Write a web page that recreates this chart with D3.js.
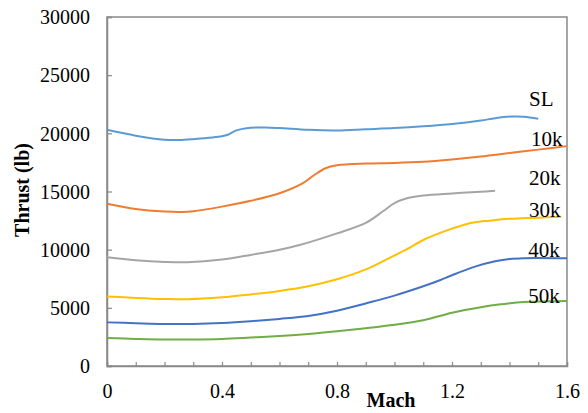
<!DOCTYPE html>
<html>
<head>
<meta charset="utf-8">
<script src="https://cdn.jsdelivr.net/npm/d3@7"></script>
<style>
  html, body { margin: 0; padding: 0; background: #fff; }
  svg { display: block; }
  text { font-family: "Liberation Serif", "Times New Roman", serif; fill: #000; }
</style>
</head>
<body>
<svg id="chart" width="588" height="413"></svg>
<script>
// ---- data ----
const seriesNames = ["SL", "10k", "20k", "30k", "40k", "50k"];
const seriesColors = ["#5B9BD5", "#ED7D31", "#A5A5A5", "#FFC000", "#4472C4", "#70AD47"];

const machSL = [0, 0.1, 0.2, 0.25, 0.3, 0.4, 0.42, 0.45, 0.5, 0.55, 0.6, 0.7, 0.8, 0.9, 1.0, 1.1, 1.2, 1.3, 1.35, 1.41, 1.45, 1.5];
const thrustSL = [20300, 19800, 19450, 19420, 19500, 19750, 19880, 20250, 20480, 20500, 20450, 20300, 20250, 20350, 20450, 20600, 20800, 21100, 21300, 21450, 21430, 21250];

const mach10k = [0, 0.1, 0.2, 0.26, 0.3, 0.4, 0.5, 0.6, 0.68, 0.72, 0.76, 0.8, 0.9, 1.0, 1.1, 1.2, 1.3, 1.4, 1.5, 1.6];
const thrust10k = [13950, 13500, 13280, 13240, 13300, 13700, 14200, 14850, 15700, 16400, 17000, 17250, 17400, 17450, 17550, 17750, 18000, 18300, 18600, 18900];

const mach20k = [0, 0.1, 0.2, 0.28, 0.4, 0.5, 0.6, 0.67, 0.8, 0.9, 0.96, 1.0, 1.04, 1.1, 1.2, 1.3, 1.35];
const thrust20k = [9350, 9100, 8950, 8920, 9150, 9550, 10000, 10400, 11400, 12300, 13300, 14000, 14400, 14650, 14830, 14980, 15070];

const mach30k = [0, 0.1, 0.2, 0.28, 0.4, 0.5, 0.6, 0.7, 0.8, 0.9, 0.98, 1.04, 1.1, 1.17, 1.24, 1.28, 1.33, 1.4, 1.5, 1.58];
const thrust30k = [5980, 5850, 5760, 5740, 5900, 6150, 6450, 6850, 7450, 8300, 9260, 10000, 10830, 11550, 12120, 12350, 12490, 12650, 12750, 12830];

const mach40k = [0, 0.1, 0.2, 0.3, 0.4, 0.5, 0.6, 0.7, 0.8, 0.9, 1.0, 1.1, 1.16, 1.2, 1.28, 1.35, 1.4, 1.45, 1.6];
const thrust40k = [3750, 3680, 3620, 3620, 3700, 3850, 4050, 4300, 4750, 5380, 6050, 6850, 7390, 7800, 8540, 9000, 9200, 9270, 9260];

const mach50k = [0, 0.1, 0.2, 0.3, 0.4, 0.5, 0.6, 0.7, 0.8, 0.9, 1.0, 1.1, 1.2, 1.3, 1.37, 1.45, 1.6];
const thrust50k = [2400, 2330, 2280, 2280, 2330, 2450, 2580, 2750, 2980, 3250, 3550, 3930, 4580, 5050, 5300, 5500, 5590];

const xTickValues = [0, 0.4, 0.8, 1.2, 1.6];
const yTickValues = [0, 5000, 10000, 15000, 20000, 25000, 30000];

// label anchors in data space (Mach, thrust)
const labelMach = [1.468, 1.475, 1.468, 1.468, 1.465, 1.465];
const labelThrust = [22350, 18900, 15600, 12800, 9400, 5380];

// ---- layout ----
const margin = { left: 107, top: 17, right: 21, bottom: 47 };
const W = 588, H = 413;
const iw = W - margin.left - margin.right;
const ih = H - margin.top - margin.bottom;

const svg = d3.select("#chart");
const g = svg.append("g").attr("transform", `translate(${margin.left},${margin.top})`);

const x = d3.scaleLinear().domain([0, 1.6]).range([0, iw]);
const y = d3.scaleLinear().domain([0, 30000]).range([ih, 0]);

const frameColor = "#898989";

// frame
g.append("rect").attr("x", 0).attr("y", 0).attr("width", iw).attr("height", ih)
  .attr("fill", "none").attr("stroke", frameColor).attr("stroke-width", 1.5);

// x axis: minor inward ticks every 0.1
const xAxis = d3.axisBottom(x).tickValues(d3.range(0, 1.6001, 0.1)).tickSize(-4).tickFormat("");
const gx = g.append("g").attr("transform", `translate(0,${ih})`).call(xAxis);
gx.select(".domain").attr("stroke", frameColor).attr("stroke-width", 1.5);
gx.selectAll(".tick line").attr("stroke", frameColor).attr("stroke-width", 1.2);

const gxl = g.append("g").attr("transform", `translate(0,${ih})`)
  .call(d3.axisBottom(x).tickValues(xTickValues).tickSize(0).tickPadding(0).tickFormat(d => d3.format("")(+d.toFixed(1))));
gxl.select(".domain").remove();
gxl.selectAll("text").attr("font-size", 20).attr("y", 32).attr("dy", 0)
  .attr("font-family", '"Liberation Serif", serif').attr("fill", "#000");

// y axis: inward ticks
const yAxis = d3.axisLeft(y).tickValues(yTickValues).tickSize(-5).tickPadding(17).tickFormat(d3.format("d"));
const gy = g.append("g").call(yAxis);
gy.select(".domain").attr("stroke", frameColor).attr("stroke-width", 1.5);
gy.selectAll(".tick line").attr("stroke", frameColor).attr("stroke-width", 1.2);
gy.selectAll("text").attr("font-size", 20).attr("dy", "0.34em")
  .attr("font-family", '"Liberation Serif", serif').attr("fill", "#000");

// series
const machs = [machSL, mach10k, mach20k, mach30k, mach40k, mach50k];
const thrusts = [thrustSL, thrust10k, thrust20k, thrust30k, thrust40k, thrust50k];
const line = d3.line().x(d => x(d[0])).y(d => y(d[1])).curve(d3.curveCatmullRom.alpha(0.5));

seriesNames.forEach((name, i) => {
  const pts = machs[i].map((m, j) => [m, thrusts[i][j]]);
  g.append("path").datum(pts).attr("d", line)
    .attr("fill", "none").attr("stroke", seriesColors[i]).attr("stroke-width", 2);
});

// curve labels
seriesNames.forEach((name, i) => {
  g.append("text").attr("x", x(labelMach[i])).attr("y", y(labelThrust[i]))
    .attr("font-size", 21).text(name);
});

// axis titles
svg.append("text").attr("x", margin.left + x(0.988)).attr("y", 407)
  .attr("text-anchor", "middle").attr("font-size", 20).attr("font-weight", "bold").text("Mach");
svg.append("text").attr("transform", "translate(29,190) rotate(-90)")
  .attr("text-anchor", "middle").attr("font-size", 20).attr("font-weight", "bold").text("Thrust (lb)");
</script>
</body>
</html>
